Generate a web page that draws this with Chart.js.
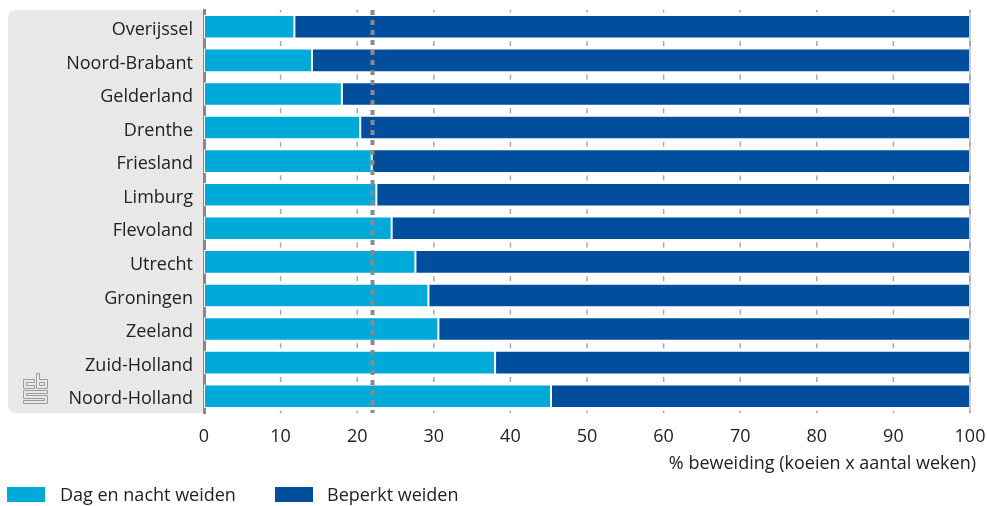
<!DOCTYPE html>
<html>
<head>
<meta charset="utf-8">
<script src="https://cdn.jsdelivr.net/npm/chart.js@4/dist/chart.umd.min.js"></script>
<style>
  html, body { margin: 0; padding: 0; background: #fff; }
  #wrap { width: 987px; height: 506px; position: relative; }
</style>
</head>
<body>
<div id="wrap"><canvas id="chart"></canvas></div>
<script>
// provinces, top to bottom
const provinces = ['Overijssel', 'Noord-Brabant', 'Gelderland', 'Drenthe', 'Friesland', 'Limburg',
                   'Flevoland', 'Utrecht', 'Groningen', 'Zeeland', 'Zuid-Holland', 'Noord-Holland'];
// % beweiding
const dagEnNacht = [11.8, 14.1, 18.0, 20.4, 21.9, 22.5, 24.5, 27.6, 29.3, 30.6, 38.0, 45.3];
const beperkt    = [88.2, 85.9, 82.0, 79.6, 78.1, 77.5, 75.5, 72.4, 70.7, 69.4, 62.0, 54.7];
const gemiddelde = 22;
const xTicks = [0, 10, 20, 30, 40, 50, 60, 70, 80, 90, 100];
const axisTitle = '% beweiding (koeien x aantal weken)';

const FONT = '"Open Sans", "Noto Sans", sans-serif';
const TEXT = '#222';
const SIZE = 18;

// grey label panel, small gap ticks, average line, logo and legend
const decor = {
    id: 'decor',
    beforeDraw(chart) {
        const { ctx, chartArea: a } = chart;
        ctx.save();
        ctx.fillStyle = '#e8e8e8';
        ctx.beginPath();
        ctx.roundRect(8, a.top, a.left - 8, a.bottom - a.top, [8, 0, 0, 8]);
        ctx.fill();
        drawLogo(ctx, 23, 373);
        ctx.restore();
    },
    beforeDatasetsDraw(chart) {
        const { ctx, chartArea: a, scales } = chart;
        const step = (a.bottom - a.top) / provinces.length;
        ctx.save();
        ctx.strokeStyle = '#a8a8a8';
        ctx.lineWidth = 1.5;
        xTicks.slice(1).forEach(v => {
            const x = scales.x.getPixelForValue(v);
            for (let i = 0; i <= provinces.length; i++) {
                const y = a.top + i * step;
                ctx.beginPath();
                ctx.moveTo(x, Math.max(a.top, y - 2.5));
                ctx.lineTo(x, Math.min(a.bottom, y + 2.5));
                ctx.stroke();
            }
        });
        ctx.restore();
    },
    afterDatasetsDraw(chart) {
        const { ctx, chartArea: a, scales } = chart;
        ctx.save();
        // right edge line at 100
        const xr = scales.x.getPixelForValue(100);
        ctx.strokeStyle = '#999';
        ctx.lineWidth = 1;
        ctx.beginPath();
        ctx.moveTo(xr, a.top);
        ctx.lineTo(xr, a.bottom);
        ctx.stroke();
        // average line
        const xm = scales.x.getPixelForValue(gemiddelde);
        ctx.strokeStyle = '#8a8a8a';
        ctx.lineWidth = 4;
        ctx.setLineDash([5, 5]);
        ctx.beginPath();
        ctx.moveTo(xm, a.top);
        ctx.lineTo(xm, a.bottom);
        ctx.stroke();
        ctx.setLineDash([]);
        // axis title
        ctx.fillStyle = TEXT;
        ctx.font = SIZE + 'px ' + FONT;
        ctx.textAlign = 'right';
        ctx.textBaseline = 'middle';
        ctx.fillText(axisTitle, 976, 464);
        // legend
        const items = [{ x: 7, text: 60 }, { x: 275, text: 327 }];
        chart.data.datasets.forEach((ds, i) => {
            ctx.fillStyle = ds.backgroundColor;
            ctx.fillRect(items[i].x, 487, 38, 15);
            ctx.fillStyle = TEXT;
            ctx.textAlign = 'left';
            ctx.fillText(ds.label, items[i].text, 496);
        });
        ctx.restore();
    }
};

// cbs mark, double grey outline
function drawLogo(ctx, x, y) {
    ctx.strokeStyle = '#9c9c9c';
    ctx.lineWidth = 1;
    ctx.beginPath();
    // c
    ctx.moveTo(x + 11.5, y + 6.5); ctx.lineTo(x + 0.5, y + 6.5); ctx.lineTo(x + 0.5, y + 15.5); ctx.lineTo(x + 11.5, y + 15.5);
    ctx.lineTo(x + 11.5, y + 12.5); ctx.lineTo(x + 3.5, y + 12.5); ctx.lineTo(x + 3.5, y + 9.5); ctx.lineTo(x + 11.5, y + 9.5);
    ctx.closePath();
    // b
    ctx.moveTo(x + 13.5, y + 0.5); ctx.lineTo(x + 16.5, y + 0.5); ctx.lineTo(x + 16.5, y + 6.5); ctx.lineTo(x + 24.5, y + 6.5);
    ctx.lineTo(x + 24.5, y + 15.5); ctx.lineTo(x + 13.5, y + 15.5); ctx.closePath();
    ctx.rect(x + 16.5, y + 9.5, 5, 3);
    // s
    ctx.moveTo(x + 24.5, y + 17.5); ctx.lineTo(x + 0.5, y + 17.5); ctx.lineTo(x + 0.5, y + 25.5); ctx.lineTo(x + 21.5, y + 25.5);
    ctx.lineTo(x + 21.5, y + 27.5); ctx.lineTo(x + 0.5, y + 27.5); ctx.lineTo(x + 0.5, y + 30.5); ctx.lineTo(x + 24.5, y + 30.5);
    ctx.lineTo(x + 24.5, y + 22.5); ctx.lineTo(x + 3.5, y + 22.5); ctx.lineTo(x + 3.5, y + 20.5); ctx.lineTo(x + 24.5, y + 20.5);
    ctx.closePath();
    ctx.stroke();
}

new Chart(document.getElementById('chart'), {
    type: 'bar',
    data: {
        labels: provinces,
        datasets: [
            { label: 'Dag en nacht weiden', data: dagEnNacht, backgroundColor: '#00aad8' },
            { label: 'Beperkt weiden', data: beperkt, backgroundColor: '#004e9c' },
        ].map(ds => Object.assign(ds, {
            borderColor: '#fff',
            borderWidth: 1,
            borderSkipped: false,
            categoryPercentage: 1,
            barPercentage: 0.7,
        }))
    },
    options: {
        indexAxis: 'y',
        responsive: true,
        maintainAspectRatio: false,
        animation: false,
        layout: { padding: { top: 10, right: 17, left: 0, bottom: 0 } },
        plugins: {
            legend: { display: false },
            tooltip: { enabled: false },
        },
        scales: {
            x: {
                stacked: true,
                min: 0,
                max: 100,
                grid: { display: false, drawTicks: false },
                border: { display: false },
                afterBuildTicks: scale => { scale.ticks = xTicks.map(v => ({ value: v })); },
                afterFit: scale => {
                    scale.height = 93;
                    scale.paddingLeft = 0;
                    scale.paddingRight = 0;
                },
                ticks: { color: TEXT, font: { family: FONT, size: SIZE }, padding: 13, maxRotation: 0 },
            },
            y: {
                stacked: true,
                grid: { display: false, drawTicks: false },
                border: { color: '#888', width: 3 },
                afterFit: scale => {
                    scale.width = 204;
                    scale.paddingTop = 0;
                    scale.paddingBottom = 0;
                },
                ticks: { color: TEXT, font: { family: FONT, size: SIZE }, padding: 11, labelOffset: 3 },
            },
        },
    },
    plugins: [decor],
});
</script>
</body>
</html>
